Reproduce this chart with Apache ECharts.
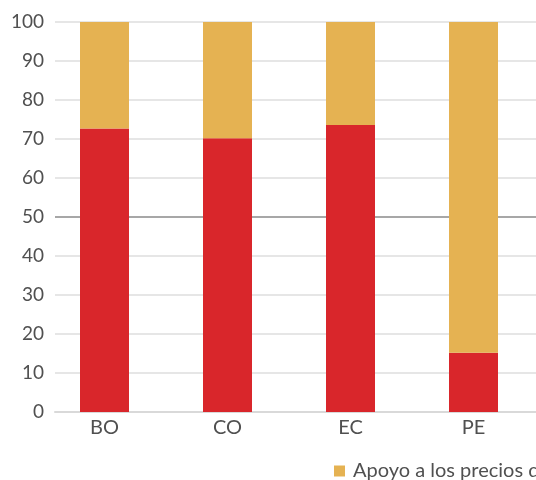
<!DOCTYPE html>
<html>
<head>
<meta charset="utf-8">
<script src="https://cdn.jsdelivr.net/npm/echarts@6/dist/echarts.min.js"></script>
<style>
  html, body { margin: 0; padding: 0; background: #fff; }
  #chart { width: 536px; height: 480px; }
</style>
</head>
<body>
<div id="chart"></div>
<script>
// Country codes on the horizontal axis
const countries = ['BO', 'CO', 'EC', 'PE'];
// Share of support (%) by instrument, stacked to 100
const transferShare = [72.7, 70.2, 73.6, 15.2];
const priceSupportShare = [27.3, 29.8, 26.4, 84.8];
// Value axis ticks
const yTicks = [0, 10, 20, 30, 40, 50, 60, 70, 80, 90, 100];

const seriesNames = {
  price: 'Apoyo a los precios de la energía',
  transfer: 'Transferencias focalizadas'
};

const gridColors = yTicks.map(v => (v === 50 ? '#8a8a8a' : '#dedede'));

const chart = echarts.init(document.getElementById('chart'), null, { renderer: 'canvas' });

chart.setOption({
  animation: false,
  textStyle: { fontFamily: 'Lato' },
  // grid 0: value scale, gridlines and baseline; grid 1: the country bands
  grid: [
    { left: 55, right: 0, top: 22, bottom: 68 },
    { left: 43, right: 1, top: 22, bottom: 68 }
  ],
  legend: {
    left: 329,
    top: 456,
    itemWidth: 11,
    itemHeight: 11,
    icon: 'rect',
    itemGap: 20,
    data: [seriesNames.price, seriesNames.transfer],
    textStyle: { fontFamily: 'Lato', fontSize: 20, color: '#505050', padding: [0, 0, 0, 3] }
  },
  xAxis: [
    {
      gridIndex: 0,
      type: 'value',
      min: 0,
      max: 1,
      splitLine: { show: false },
      axisTick: { show: false },
      axisLabel: { show: false },
      axisLine: { show: true, lineStyle: { color: '#d9d9d9', width: 2 } }
    },
    {
      gridIndex: 1,
      type: 'category',
      data: countries,
      axisLine: { show: false },
      axisTick: { show: false },
      axisLabel: { fontFamily: 'Lato', fontSize: 20, color: '#505050', margin: 6 }
    }
  ],
  yAxis: [
    {
      gridIndex: 0,
      type: 'value',
      min: 0,
      max: 100,
      interval: 10,
      axisLine: { show: false },
      axisTick: { show: false },
      splitLine: { show: true, lineStyle: { color: gridColors, width: 1.5 } },
      axisLabel: { fontFamily: 'Lato', fontSize: 19, color: '#505050', margin: 11 }
    },
    {
      gridIndex: 1,
      type: 'value',
      min: 0,
      max: 100,
      show: false
    }
  ],
  series: [
    {
      name: seriesNames.transfer,
      type: 'bar',
      xAxisIndex: 1,
      yAxisIndex: 1,
      stack: 'total',
      barWidth: 49,
      itemStyle: { color: '#d9262b' },
      data: transferShare
    },
    {
      name: seriesNames.price,
      type: 'bar',
      xAxisIndex: 1,
      yAxisIndex: 1,
      stack: 'total',
      barWidth: 49,
      itemStyle: { color: '#e5b252' },
      data: priceSupportShare
    }
  ]
});
</script>
</body>
</html>
